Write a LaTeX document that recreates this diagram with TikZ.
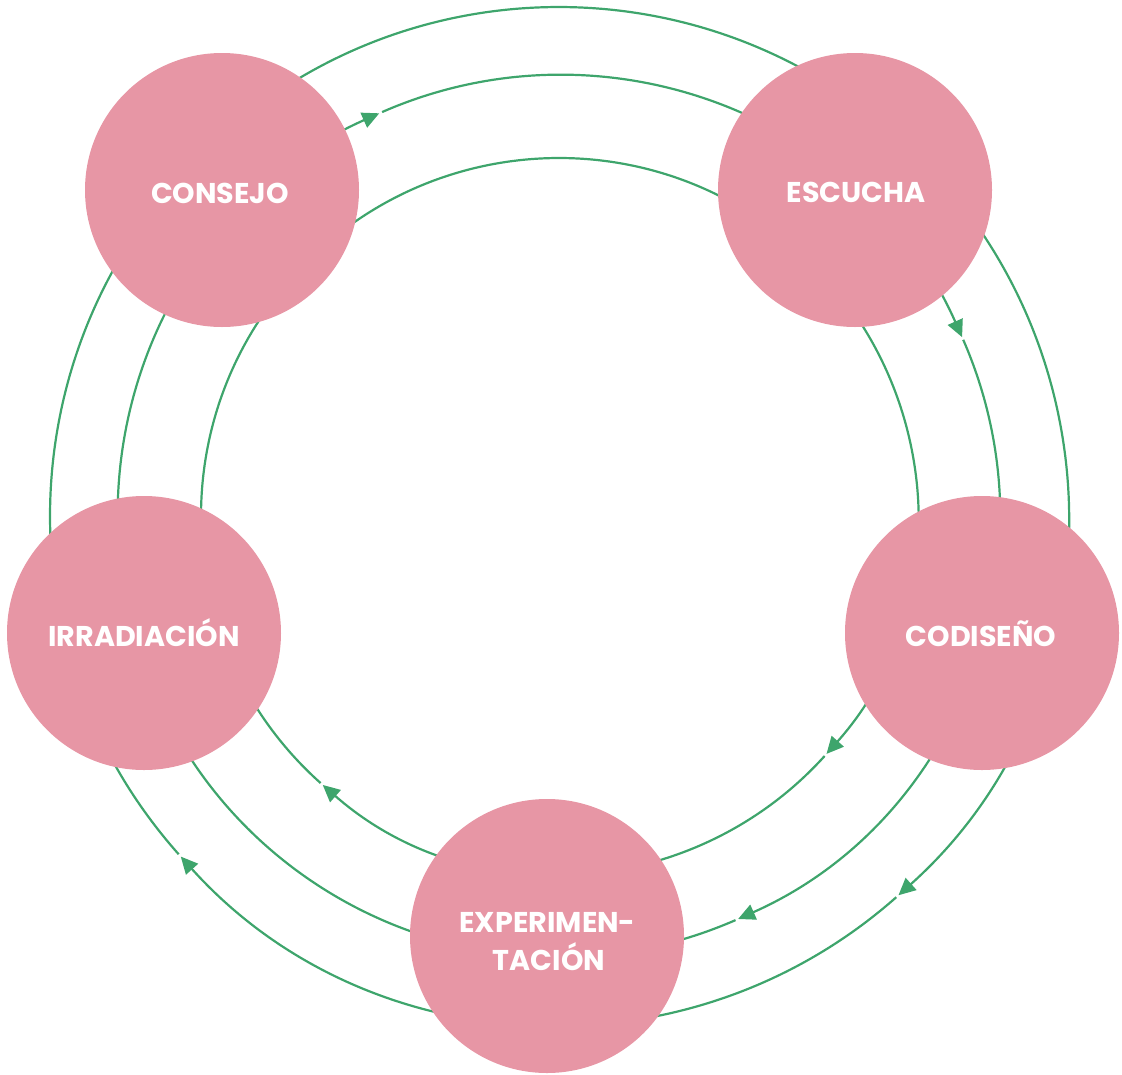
\documentclass[tikz,border=0pt]{standalone}
\usepackage{fontspec}
\setmainfont{Poppins}
\usetikzlibrary{arrows.meta}
\definecolor{ringgreen}{RGB}{62,165,108}
\definecolor{bubblepink}{RGB}{231,150,165}
\begin{document}
\begin{tikzpicture}[x=1pt,y=-1pt,
  ring/.style={draw=ringgreen, line width=2.2pt},
  tipped/.style={ring, -{Triangle[length=17pt,width=16pt]}},
  bubble/.style={circle, fill=bubblepink, minimum size=274pt, inner sep=0pt},
  lbl/.style={text=white, font=\bfseries\fontsize{28.6}{38}\selectfont, anchor=base, inner sep=0pt}]
\useasboundingbox (0,0) rectangle (1122,1074);
\coordinate (c) at (559,516);
% outer ring
\draw[tipped] (c) ++(48.5:509) arc[start angle=48.5, end angle=138.0, radius=509];
\draw[tipped] (c) ++(138.35:509) arc[start angle=138.35, end angle=408.17, radius=509];
% middle ring
\draw[tipped] (c) ++(66.4:441) arc[start angle=66.4, end angle=245.95, radius=441];
\draw[tipped] (c) ++(-113.65:441) arc[start angle=-113.65, end angle=-23.93, radius=441];
\draw[tipped] (c) ++(-23.55:441) arc[start angle=-23.55, end angle=66.04, radius=441];
% inner ring
\draw[tipped] (c) ++(42.1:358) arc[start angle=42.1, end angle=131.3, radius=358];
\draw[tipped] (c) ++(131.75:358) arc[start angle=131.75, end angle=401.65, radius=358];
% bubbles
\node[bubble] (consejo) at (222,190) {};
\node[bubble] (escucha) at (855,190) {};
\node[bubble] (codiseno) at (982,633) {};
\node[bubble] (irradiacion) at (144,633) {};
\node[bubble] (experimentacion) at (547,936) {};
% labels
\node[lbl] (t-consejo) at (220,203) {CONSEJO};
\node[lbl] (t-escucha) at (856,202.5) {ESCUCHA};
\node[lbl] (t-codiseno) at (981,646) {CODISEÑO};
\node[lbl] (t-irradiacion) at (144,646) {IRRADIACIÓN};
\node[lbl] (t-exp1) at (547.5,932) {EXPERIMEN-};
\node[lbl] (t-exp2) at (549,970) {TACIÓN};
\end{tikzpicture}
\end{document}
